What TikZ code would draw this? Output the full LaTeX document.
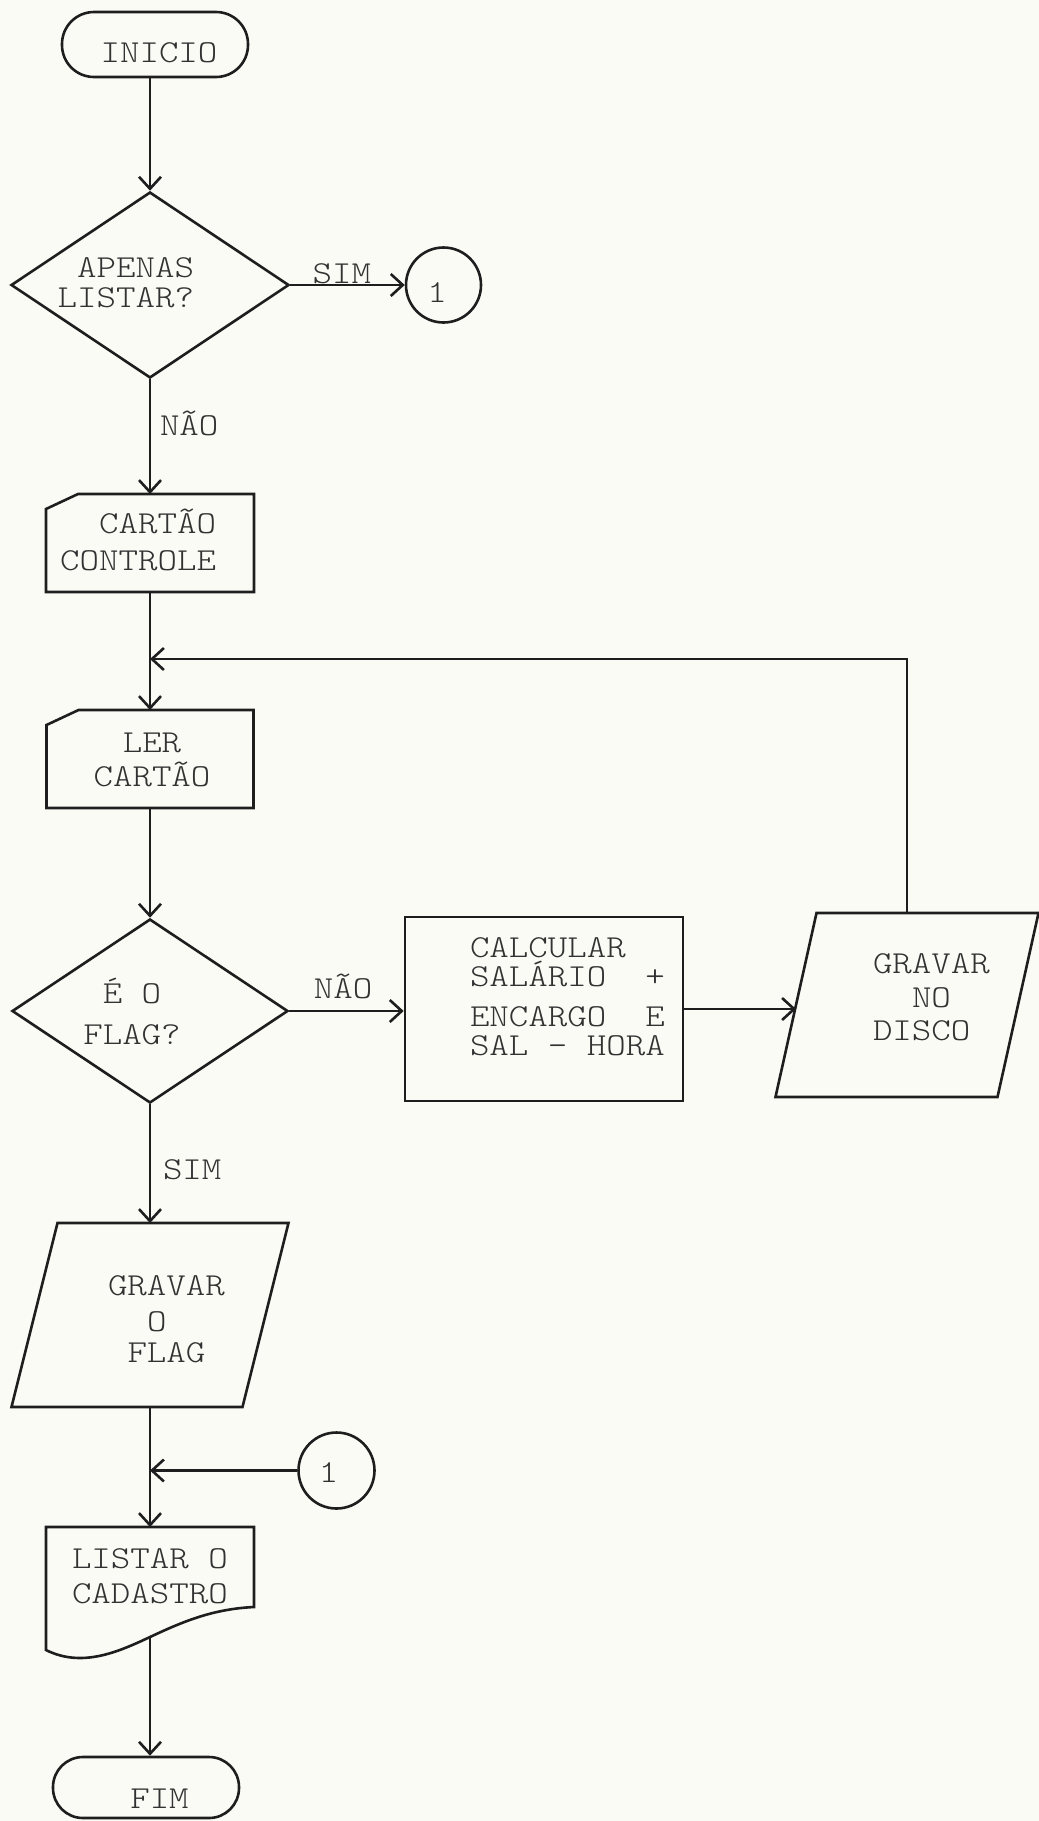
\documentclass[tikz,border=0pt]{standalone}
\usepackage{fontspec}
\newfontfamily\tw{lmmonolt10-regular.otf}[FakeStretch=1.16]
\usetikzlibrary{shapes.geometric,arrows.meta,calc}
\definecolor{ink}{RGB}{30,30,30}
\definecolor{textc}{RGB}{50,50,50}
\definecolor{paper}{RGB}{251,251,246}
\begin{document}
\begin{tikzpicture}[x=1pt,y=-1pt,
  shp/.style={draw=ink, line width=2.6pt},
  area/.style={inner sep=0pt, outer sep=0pt},
  txt/.style={font={\fontsize{32}{33}\tw}, text=textc, inner sep=0pt, outer sep=0pt},
  arr/.style={draw=ink, line width=2.6pt, -{Straight Barb[length=12pt,width=22pt]}},
  term/.style={shp, rectangle, minimum width=186pt},
  dec/.style={shp, diamond, inner sep=0pt},
  conn/.style={shp, circle, inner sep=0pt}]
\fill[paper] (0,0) rectangle (1039,1821);
\useasboundingbox (0,0) rectangle (1039,1821);

% shapes
\node[term, minimum height=65pt, rounded corners=32pt] (inicio) at (155,44.5) {};
\node[dec, minimum width=278pt, minimum height=186pt] (d1) at (150,285) {};
\node[conn, minimum size=75pt] (c1) at (443.5,285) {};
\node[area, minimum width=208pt, minimum height=98pt] (card1) at (150,543) {};
\draw[shp] (card1.south west) -- ($(card1.north west)+(0,15)$) -- ($(card1.north west)+(32,0)$) -- (card1.north east) -- (card1.south east) -- cycle;
\node[area, minimum width=207pt, minimum height=98pt] (ler) at (150,759) {};
\draw[shp] (ler.south west) -- ($(ler.north west)+(0,15)$) -- ($(ler.north west)+(32,0)$) -- (ler.north east) -- (ler.south east) -- cycle;
\node[dec, minimum width=276pt, minimum height=184pt] (d2) at (150,1011) {};
\node[shp, rectangle, minimum width=278pt, minimum height=184pt] (calc) at (544,1009) {};
\node[area, minimum width=222pt, minimum height=184pt] (disco) at (907,1005) {};
\draw[shp] ($(disco.north west)+(20.5,0)$) -- ($(disco.north east)+(20.5,0)$) -- ($(disco.south east)+(-20.5,0)$) -- ($(disco.south west)+(-20.5,0)$) -- cycle;
\node[area, minimum width=231pt, minimum height=184pt] (gravar) at (150,1315) {};
\draw[shp] ($(gravar.north west)+(23,0)$) -- ($(gravar.north east)+(23,0)$) -- ($(gravar.south east)+(-23,0)$) -- ($(gravar.south west)+(-23,0)$) -- cycle;
\node[conn, minimum size=76pt] (c2) at (336.5,1470.5) {};
\node[area, minimum width=208pt, minimum height=123pt] (listar) at (150,1588.5) {};
\coordinate (lb) at (150,1637);
\draw[shp] (listar.north west) -- (listar.north east) -- ($(listar.north east)+(0,80)$)
  .. controls (212,1609) and (182,1622) .. (lb)
  .. controls (118,1652) and (82,1668) .. (listar.south west) -- cycle;
\node[term, minimum height=61pt, rounded corners=30pt] (fim) at (146,1787.5) {};

% texts
\node[txt, anchor=base] (tinicio) at (159,62) {INICIO};
\node[txt, anchor=base east] (td1a) at (194,277) {APENAS};
\node[txt, anchor=base east] (td1b) at (194,307) {LISTAR?};
\node[txt, anchor=base] (tc1) at (437,302) {1};
\node[txt, anchor=base east] (tcarda) at (216,533) {CARTÃO};
\node[txt, anchor=base east] (tcardb) at (216,570) {CONTROLE};
\node[txt, anchor=base] (tlera) at (152,752) {LER};
\node[txt, anchor=base] (tlerb) at (152,786) {CARTÃO};
\node[txt, anchor=base] (td2a) at (132,1003) {É O};
\node[txt, anchor=base] (td2b) at (132,1044) {FLAG?};
\node[txt, anchor=base west] (tcalca) at (470,957) {CALCULAR};
\node[txt, anchor=base west] (tcalcb) at (470,986) {SALÁRIO~~+};
\node[txt, anchor=base west] (tcalcc) at (470,1026) {ENCARGO~~E};
\node[txt, anchor=base west] (tcalcd) at (470,1055) {SAL~-~HORA};
\node[txt, anchor=base west] (tdiscoa) at (873,973) {GRAVAR};
\node[txt, anchor=base west] (tdiscob) at (912,1007) {NO};
\node[txt, anchor=base west] (tdiscoc) at (873,1040) {DISCO};
\node[txt, anchor=base west] (tgrava) at (108,1295) {GRAVAR};
\node[txt, anchor=base west] (tgravb) at (147,1331) {O};
\node[txt, anchor=base west] (tgravc) at (127.5,1362) {FLAG};
\node[txt, anchor=base] (tc2) at (328.5,1482) {1};
\node[txt, anchor=base west] (tlista) at (72,1568) {LISTAR O};
\node[txt, anchor=base west] (tlistb) at (72,1603) {CADASTRO};
\node[txt, anchor=base] (tfim) at (159.5,1808) {FIM};

% connectors
\coordinate (j1) at (150,659);
\coordinate (j2) at (150,1470.5);
\draw[arr] (inicio.south -| d1.north) -- (d1.north);
\draw[arr] (d1.east) -- node[txt, pos=0.45, anchor=base, yshift=2pt] (lsim1) {SIM} (c1.west);
\draw[arr] (d1.south) -- node[txt, pos=0.49, anchor=base west, xshift=10pt] (lnao1) {NÃO} (card1.north);
\draw[arr] (card1.south) -- (ler.north);
\draw[arr] (disco.north) |- (j1);
\draw[arr] (ler.south) -- (d2.north);
\draw[arr] (d2.east) -- node[txt, pos=0.47, anchor=base, yshift=13pt] (lnao2) {NÃO} (d2.east -| calc.west);
\draw[arr] (calc.east) -- (calc.east -| disco.west);
\draw[arr] (d2.south) -- node[txt, pos=0.633, anchor=base west, xshift=13pt] (lsim2) {SIM} (gravar.north);
\draw[arr] (gravar.south) -- (listar.north);
\draw[arr] (c2.west) -- (j2);
\draw[arr] (lb) -- (lb |- fim.north);
\end{tikzpicture}
\end{document}
